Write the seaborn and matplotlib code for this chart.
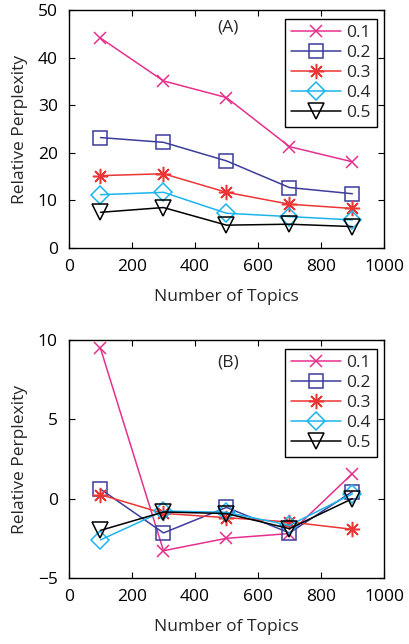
import matplotlib
matplotlib.use('Agg')
from matplotlib import pyplot as plt
import seaborn as sns

topics = [100, 300, 500, 700, 900]
labels = ['0.1', '0.2', '0.3', '0.4', '0.5']

# panel A
a_01 = [44.1, 35.1, 31.6, 21.3, 18.1]
a_02 = [23.2, 22.2, 18.3, 12.7, 11.4]
a_03 = [15.2, 15.6, 11.7, 9.2, 8.3]
a_04 = [11.2, 11.7, 7.3, 6.6, 5.9]
a_05 = [7.5, 8.5, 4.8, 5.0, 4.5]

# panel B
b_01 = [9.47, -3.28, -2.5, -2.2, 1.58]
b_02 = [0.6, -2.16, -0.55, -2.16, 0.45]
b_03 = [0.25, -0.93, -1.2, -1.47, -1.93]
b_04 = [-2.6, -0.78, -0.86, -1.68, 0.3]
b_05 = [-2.0, -0.84, -0.94, -1.89, 0.0]

kolory = ['#e5308d', '#3c3c9c', '#ee3535', '#1cb4ee', '#000000']
markery = ['x', 's', (8, 2, 0), 'D', 'v']
rozmiary = [9, 10.5, 11, 9, 12]

sns.set_style('ticks')
plt.rcParams['font.family'] = ['Open Sans', 'DejaVu Sans']
plt.rcParams['font.size'] = 12


def panel(ax, dane, litera, ylim, yticks):
    for i in range(0, len(dane)):
        sns.lineplot(x=topics, y=dane[i], ax=ax, color=kolory[i], marker=markery[i],
                     markersize=rozmiary[i], markerfacecolor='none',
                     markeredgecolor=kolory[i], markeredgewidth=1.1,
                     linewidth=1.1, label=labels[i])
    ax.set_xlim(0, 1000)
    ax.set_ylim(ylim)
    ax.set_xticks([0, 200, 400, 600, 800, 1000])
    ax.set_yticks(yticks)
    ax.tick_params(direction='in', top=True, right=True, length=4, width=0.8,
                   labelsize=12.5, pad=8, colors='black')
    for s in ax.spines.values():
        s.set_visible(True)
        s.set_linewidth(1.0)
        s.set_color('black')
    ax.set_xlabel('Number of Topics', fontsize=12.5, labelpad=10)
    ax.set_ylabel('Relative Perplexity', fontsize=12.5, labelpad=7)
    ax.text(0.505, 0.925 if litera == '(A)' else 0.905, litera, transform=ax.transAxes,
            ha='center', va='center', fontsize=12.5)
    leg = ax.legend(loc='upper right', bbox_to_anchor=(0.978, 0.962), fancybox=False,
                    framealpha=1, edgecolor='black', fontsize=12.5, handlelength=2.9,
                    handletextpad=0.3, labelspacing=0.22, borderpad=0.35,
                    borderaxespad=0)
    leg.get_frame().set_linewidth(1.0)


fig = plt.figure(figsize=(4.09, 6.44), dpi=100)
ax1 = fig.add_axes([0.1687, 0.6149, 0.770, 0.3696])
ax2 = fig.add_axes([0.1687, 0.1025, 0.770, 0.3696])

panel(ax1, [a_01, a_02, a_03, a_04, a_05], '(A)', (0, 50), [0, 10, 20, 30, 40, 50])
panel(ax2, [b_01, b_02, b_03, b_04, b_05], '(B)', (-5, 10), [-5, 0, 5, 10])

plt.savefig('out.png', dpi=100)
